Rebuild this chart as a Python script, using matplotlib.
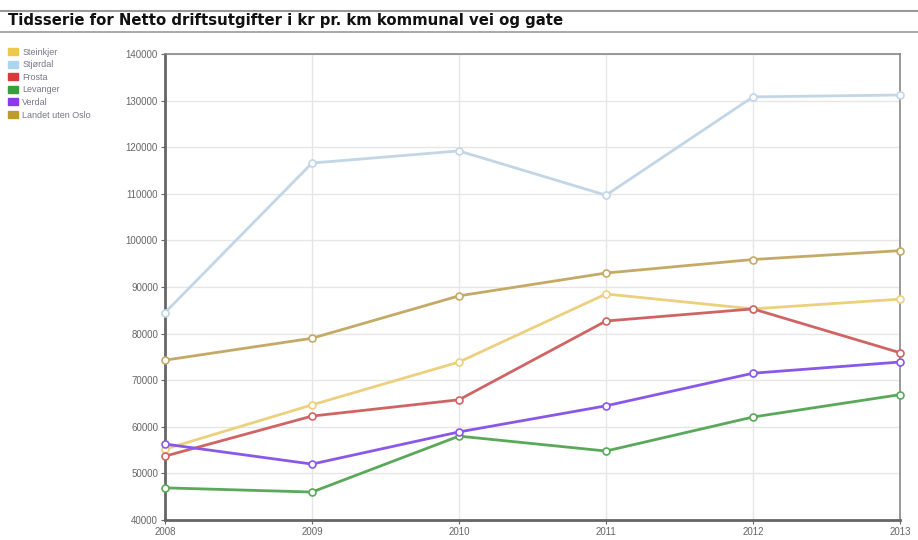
import matplotlib
matplotlib.use("Agg")
import matplotlib.pyplot as plt
from matplotlib.patches import Patch

plt.rcParams["font.family"] = ["Liberation Sans", "DejaVu Sans"]

years = [2008, 2009, 2010, 2011, 2012, 2013]
series_names = ["Steinkjer", "Stjørdal", "Frosta", "Levanger", "Verdal", "Landet uten Oslo"]
steinkjer = [55200, 64700, 73900, 88500, 85300, 87400]
stjordal = [84500, 116600, 119200, 109700, 130800, 131200]
frosta = [53700, 62300, 65800, 82700, 85300, 75900]
levanger = [46900, 46000, 58000, 54800, 62100, 66900]
verdal = [56300, 52000, 58900, 64500, 71500, 73900]
landet = [74300, 79000, 88100, 93000, 95900, 97800]
y_ticks = [40000, 50000, 60000, 70000, 80000, 90000, 100000, 110000, 120000, 130000, 140000]

values = [steinkjer, stjordal, frosta, levanger, verdal, landet]
legend_colors = ["#eec84e", "#acd6ee", "#d63c3c", "#3a9e3a", "#8a38ea", "#bf9a2c"]
line_colors = ["#ecd07e", "#c2d6e6", "#d06464", "#5aa85a", "#8a58e6", "#c4aa66"]

fig = plt.figure(figsize=(9.18, 5.4), dpi=100)
ax = fig.add_axes([165/918, 1-520/540, (900-165)/918, (520-54)/540])

for name, vals, c in zip(series_names, values, line_colors):
    ax.plot(years, vals, color=c, lw=2.0, marker="o", ms=5,
            mfc="white", mec=c, mew=1.2, zorder=3, clip_on=False)

ax.set_xlim(2008, 2013)
ax.set_ylim(40000, 140000)
ax.set_xticks(years)
ax.set_xticklabels([str(y) for y in years])
ax.set_yticks(y_ticks)
ax.set_yticklabels([str(v) for v in y_ticks])
ax.grid(True, color="#e6e6e6", lw=1)
ax.set_axisbelow(True)
for s in ax.spines.values():
    s.set_color("#888888")
    s.set_linewidth(1.2)
ax.spines["left"].set_color("#666666")
ax.spines["left"].set_linewidth(2)
ax.spines["bottom"].set_color("#666666")
ax.spines["bottom"].set_linewidth(2)
ax.tick_params(axis="both", labelsize=7, colors="#666666", length=3, width=0.8)
ax.tick_params(axis="x", pad=2)
ax.tick_params(axis="y", pad=2)

# Title with rules
fig.text(8/918, 1-21/540, "Tidsserie for Netto driftsutgifter i kr pr. km kommunal vei og gate",
         fontsize=10.7, fontweight="bold", color="#111111", va="center", ha="left",
         family=["DejaVu Sans"])
fig.add_artist(plt.Line2D([0, 1], [1-11/540, 1-11/540], color="#999999", lw=1.5))
fig.add_artist(plt.Line2D([0, 1], [1-32/540, 1-32/540], color="#999999", lw=1.2))

handles = [Patch(facecolor=c, edgecolor=c) for c in legend_colors]
leg = fig.legend(handles, series_names, loc="upper left", bbox_to_anchor=(4/918, 1-44/540),
                 frameon=False, fontsize=6.5, handlelength=1.2, handleheight=0.8,
                 labelspacing=0.4, handletextpad=0.4, borderaxespad=0)
for t in leg.get_texts():
    t.set_color("#777788")

fig.savefig("out.png", dpi=100)
